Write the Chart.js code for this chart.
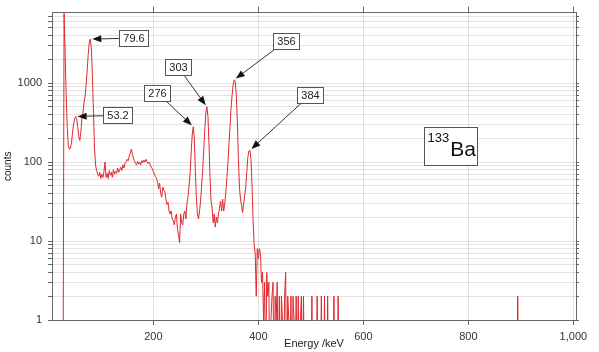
<!DOCTYPE html>
<html>
<head>
<meta charset="utf-8">
<title>133Ba spectrum</title>
<script src="https://cdn.jsdelivr.net/npm/chart.js@4.4.1/dist/chart.umd.min.js"></script>
<style>
  html, body { margin: 0; padding: 0; background: #fff; }
  #wrap { width: 599px; height: 352px; }
</style>
</head>
<body>
<div id="wrap"><canvas id="spectrum" width="599" height="352"></canvas></div>
<script>
/* ================= DATA ================= */
// channels are 2 keV wide, first one at 24 keV
const firstChannelKeV = 24;
const keVPerChannel = 2;

// counts per channel, one row = 10 channels (row start energy in comment)
const counts = [
  0, 0, 0, 7600, 2400, 700, 280, 165, 145, 150,          // 24
  175, 230, 300, 350, 378, 355, 280, 210, 188, 240,      // 44
  360, 430, 560, 680, 950, 1450, 2300, 3300, 3600, 2700, // 64
  1200, 420, 150, 90, 78, 70, 66, 74, 62, 70,            // 84
  64, 76, 100, 64, 72, 62, 78, 68, 74, 64,               // 104
  80, 70, 76, 72, 84, 74, 80, 86, 78, 92,                // 124
  84, 96, 100, 108, 104, 118, 128, 146, 128, 112,        // 144
  104, 96, 92, 102, 94, 100, 92, 104, 98, 106,           // 164
  100, 108, 102, 96, 100, 92, 86, 82, 76, 70,            // 184
  66, 62, 56, 46, 54, 40, 36, 48, 44, 42,                // 204
  34, 29, 31, 24, 22, 24, 19, 18, 16, 20,                // 224
  22, 14, 12, 9.5, 22, 17, 16, 22, 24, 19,               // 244
  30, 36, 50, 70, 130, 220, 280, 200, 80, 35,            // 264
  22, 19, 24, 32, 50, 80, 140, 260, 420, 500,            // 284
  380, 170, 62, 32, 26, 17, 22, 15, 20, 17,              // 304
  22, 26, 32, 24, 34, 24, 30, 40, 62, 95,                // 324
  170, 280, 480, 700, 950, 1100, 1050, 700, 330, 110,    // 344
  48, 34, 28, 23, 30, 38, 48, 75, 115, 138,              // 364
  141, 108, 50, 18, 9, 7, 2, 8, 6, 8,                    // 384
  7, 3, 4, 1, 3, 0, 4, 2, 3, 0,                          // 404
  1, 2, 3, 0, 2, 1, 3, 0, 2, 0,                          // 424
  2, 1, 0, 2, 4, 0, 2, 1, 0, 2,                          // 444
  0, 2, 1, 0, 2, 0, 2, 0, 1, 2,                          // 464
  0, 2, 0, 0, 0, 0, 0, 0, 0, 2,                          // 484
  0, 0, 0, 0, 2, 0, 0, 0, 2, 0,                          // 504
  0, 2, 0, 0, 2, 0, 0, 0, 0, 0,                          // 524
  2, 0, 0, 0, 2, 0, 0, 0, 0                              // 544
];

// lone events far above the main spectrum
const strayEnergy = [894];
const strayCounts = [2];

const lastChannelKeV = 1004;

// peak tags
const peakNames = ["53.2", "79.6", "276", "303", "356", "384"];
const peakEnergy = [53.2, 79.6, 276, 303, 356, 384];

// axes
const energyTicks = [200, 400, 600, 800, 1000];
const countDecades = [1, 10, 100, 1000];
const decadeSteps = [1, 2, 3, 4, 5, 6, 7, 8, 9];

const sourceMass = "133";
const sourceName = "Ba";

/* ================= BUILD SERIES ================= */
const spectrum = [];
const lastListed = firstChannelKeV + keVPerChannel * (counts.length - 1);
for (let e = firstChannelKeV; e <= lastChannelKeV; e += keVPerChannel) {
  let c = 0;
  if (e <= lastListed) {
    c = counts[(e - firstChannelKeV) / keVPerChannel];
  } else {
    const k = strayEnergy.indexOf(e);
    if (k >= 0) c = strayCounts[k];
  }
  spectrum.push({ x: e, y: c });
}

const xMin = 7, xMax = 1005;
const yMin = 1, yMax = 7800;

const yTickValues = [];
countDecades.forEach(d => decadeSteps.forEach(s => {
  if (d * s <= yMax) yTickValues.push(d * s);
}));

/* ================= STYLE ================= */
const FONT = '"Liberation Sans", Arial, sans-serif';
const AXIS = "#666";
const GRID = "rgba(0,0,0,0.11)";
const LINE = "#e0282e";

// box centre offset from peak (px)
const tagOffsets = [[42, -1], [43, -1], [-36, -34], [-29, -40], [52, -39], [60, -55]];

/* ================= TAGS PLUGIN ================= */
const peakTags = {
  id: "peakTags",
  afterDatasetsDraw(chart) {
    const { ctx, chartArea, scales: { x, y } } = chart;
    ctx.save();
    ctx.font = "11px " + FONT;
    ctx.textAlign = "center";
    ctx.textBaseline = "middle";

    peakEnergy.forEach((pe, i) => {
      // tallest point near the labelled energy
      let best = null;
      spectrum.forEach(p => {
        if (Math.abs(p.x - pe) <= 3 && (!best || p.y > best.y)) best = p;
      });
      const px = x.getPixelForValue(best.x);
      const py = y.getPixelForValue(best.y);
      const cx = px + tagOffsets[i][0];
      const cy = py + tagOffsets[i][1];
      const w = Math.round(ctx.measureText(peakNames[i]).width) + 8;
      const h = 16;

      let dx = px - cx, dy = py - cy;
      const len = Math.hypot(dx, dy);
      const ux = dx / len, uy = dy / len;
      const tipX = px - ux * 2, tipY = py - uy * 2;
      const t = Math.min((w / 2) / Math.abs(ux || 1e-6), (h / 2) / Math.abs(uy || 1e-6));
      const sx = cx + ux * t, sy = cy + uy * t;
      const headLen = 9, headW = 3.5;
      const bx = tipX - ux * headLen, by = tipY - uy * headLen;

      ctx.strokeStyle = "#333";
      ctx.lineWidth = 1;
      ctx.beginPath();
      ctx.moveTo(sx, sy);
      ctx.lineTo(bx, by);
      ctx.stroke();

      ctx.fillStyle = "#111";
      ctx.beginPath();
      ctx.moveTo(tipX, tipY);
      ctx.lineTo(bx - uy * headW, by + ux * headW);
      ctx.lineTo(bx + uy * headW, by - ux * headW);
      ctx.closePath();
      ctx.fill();

      const rx = Math.round(cx - w / 2) + 0.5, ry = Math.round(cy - h / 2) + 0.5;
      ctx.fillStyle = "#fff";
      ctx.fillRect(rx, ry, w, h);
      ctx.strokeStyle = "#555";
      ctx.strokeRect(rx, ry, w, h);
      ctx.fillStyle = "#222";
      ctx.fillText(peakNames[i], rx + w / 2, ry + h / 2 + 0.5);
    });

    // source label
    const bw = 53, bh = 38;
    const bcx = chartArea.left + chartArea.width * 0.76;
    const bcy = chartArea.top + chartArea.height * 0.434;
    const lx = Math.round(bcx - bw / 2) + 0.5, ly = Math.round(bcy - bh / 2) + 0.5;
    ctx.fillStyle = "#fff";
    ctx.fillRect(lx, ly, bw, bh);
    ctx.strokeStyle = "#555";
    ctx.strokeRect(lx, ly, bw, bh);
    ctx.fillStyle = "#111";
    ctx.textAlign = "left";
    ctx.textBaseline = "alphabetic";
    ctx.font = "13px " + FONT;
    ctx.fillText(sourceMass, lx + 3, ly + 14);
    const mw = ctx.measureText(sourceMass).width;
    ctx.font = "21px " + FONT;
    ctx.fillText(sourceName, lx + 3 + mw + 1, ly + 28);
    ctx.restore();
  }
};

/* ================= CHART ================= */
const fixedTicks = list => scale => { scale.ticks = list.map(v => ({ value: v })); };

new Chart(document.getElementById("spectrum"), {
  type: "line",
  data: {
    datasets: [{
      label: "counts",
      // empty channels sit below the log floor so their lines run off the bottom
      data: spectrum.map(p => ({ x: p.x, y: p.y > 0 ? p.y : 0.1 })),
      borderColor: LINE,
      borderWidth: 1,
      pointRadius: 0,
      tension: 0,
      fill: false
    }]
  },
  options: {
    responsive: false,
    animation: false,
    events: [],
    layout: { padding: 0 },
    plugins: {
      legend: { display: false },
      tooltip: { enabled: false }
    },
    scales: {
      x: {
        type: "linear",
        position: "bottom",
        min: xMin,
        max: xMax,
        afterBuildTicks: fixedTicks(energyTicks),
        afterFit: s => { s.height = 32; },
        grid: { color: GRID, tickColor: AXIS, tickLength: 5 },
        border: { color: AXIS },
        ticks: { color: "#333", font: { family: FONT, size: 11 }, padding: 5, maxRotation: 0, autoSkip: false },
        title: {
          display: true, text: "Energy /keV", color: "#222",
          font: { family: FONT, size: 11 }, padding: { top: 0, bottom: 1 }
        }
      },
      x2: {
        type: "linear",
        position: "top",
        min: xMin,
        max: xMax,
        afterBuildTicks: fixedTicks(energyTicks),
        afterFit: s => { s.height = 9; },
        grid: { drawOnChartArea: false, tickColor: AXIS, tickLength: 6 },
        border: { color: AXIS },
        ticks: { display: false }
      },
      y: {
        type: "logarithmic",
        position: "left",
        min: yMin,
        max: yMax,
        afterBuildTicks: fixedTicks(yTickValues),
        afterFit: s => { s.width = 52; },
        grid: { color: GRID, tickColor: AXIS, tickLength: 4 },
        border: { color: AXIS },
        ticks: {
          color: "#333", font: { family: FONT, size: 11 }, padding: 6, autoSkip: false,
          callback: v => countDecades.includes(v) ? String(v) : ""
        },
        title: {
          display: true, text: "counts", color: "#222",
          font: { family: FONT, size: 10 }, padding: { top: 2, bottom: 0 }
        }
      },
      y2: {
        type: "logarithmic",
        position: "right",
        min: yMin,
        max: yMax,
        afterBuildTicks: fixedTicks(yTickValues),
        afterFit: s => { s.width = 23; },
        grid: { drawOnChartArea: false, tickColor: AXIS, tickLength: 3 },
        border: { color: AXIS },
        ticks: { display: false }
      }
    }
  },
  plugins: [peakTags]
});
</script>
</body>
</html>
